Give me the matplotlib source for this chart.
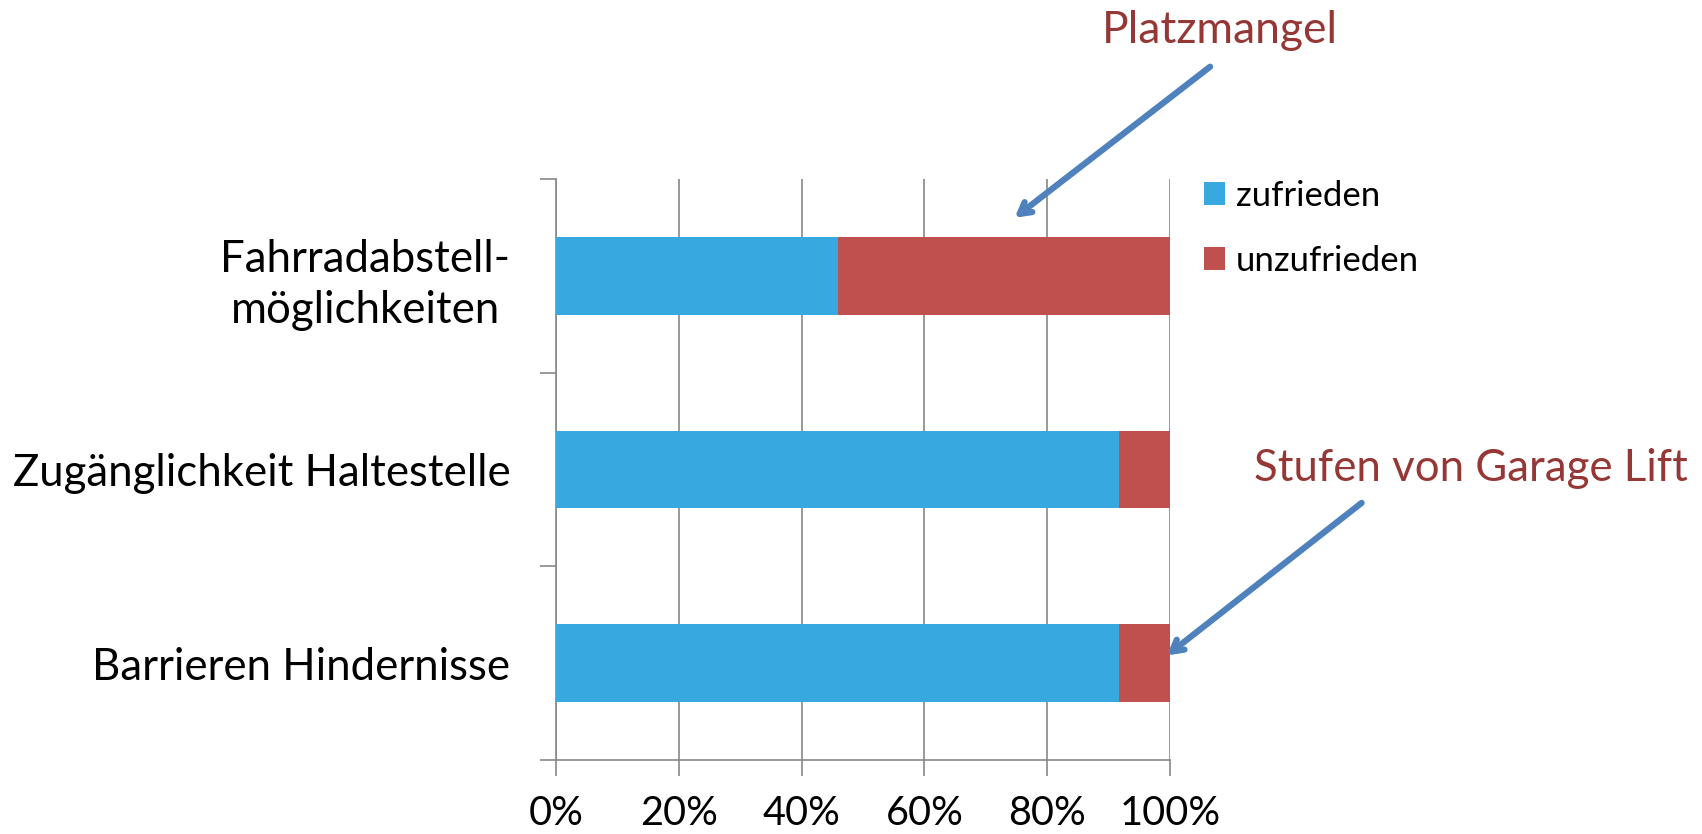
import matplotlib
matplotlib.use('Agg')
import matplotlib.pyplot as plt
import numpy as np

plt.rcParams['font.family'] = ['Lato', 'DejaVu Sans']

# data
categories = ['Fahrradabstell-\nmöglichkeiten', 'Zugänglichkeit Haltestelle', 'Barrieren Hindernisse']
zufrieden = [46.0, 91.7, 91.7]
unzufrieden = [54.0, 8.3, 8.3]
series_names = ['zufrieden', 'unzufrieden']
x_ticks = [0, 20, 40, 60, 80, 100]

BLUE = '#37A9E0'
RED = '#C0504D'
DARKRED = '#953735'
ARROW = '#4F81BD'
GRID = '#878787'

fig = plt.figure(figsize=(17.02, 8.34), dpi=100)
ax = fig.add_axes([0.3267, 0.0887, 0.3607, 0.6966])

y = np.arange(len(categories))
ax.barh(y, zufrieden, height=0.4, color=BLUE, label=series_names[0], zorder=3)
ax.barh(y, unzufrieden, left=zufrieden, height=0.4, color=RED, label=series_names[1], zorder=3)

ax.set_xlim(0, 100)
ax.set_ylim(len(categories) - 0.5, -0.5)

# x axis
ax.set_xticks(x_ticks)
ax.set_xticklabels(['%d%%' % v for v in x_ticks], fontsize=28.5)
ax.tick_params(axis='x', direction='out', length=11.5, width=1.2, color=GRID, pad=14)
ax.grid(axis='x', color=GRID, linewidth=1.2, zorder=0)

# y axis: ticks on category boundaries, labels at centres
ax.set_yticks(np.arange(len(categories) + 1) - 0.5)
ax.set_yticklabels([])
ax.set_yticks(y, minor=True)
ax.set_yticklabels(categories, minor=True, fontsize=31.5)
for lab in ax.get_yticklabels(minor=True):
    lab.set_multialignment('center')
    lab.set_linespacing(1.3)
ax.tick_params(axis='y', which='major', direction='out', length=11.5, width=1.2, color=GRID)
ax.tick_params(axis='y', which='minor', length=0, pad=33)

for side in ['top', 'right']:
    ax.spines[side].set_visible(False)
for side in ['left', 'bottom']:
    ax.spines[side].set_color(GRID)
    ax.spines[side].set_linewidth(1.2)

leg = ax.legend(loc='upper left', bbox_to_anchor=(0.689, 0.822), bbox_transform=fig.transFigure,
                frameon=False, fontsize=25, handlelength=0.62, handleheight=0.62,
                handletextpad=0.3, labelspacing=0.95)

# annotations
fig.text(0.717, 0.964, 'Platzmangel', color=DARKRED, fontsize=32, ha='center', va='center')
ax.annotate('', xy=(74.7, -0.30), xycoords='data', xytext=(0.711, 0.920), textcoords='figure fraction',
            arrowprops=dict(arrowstyle='->,head_length=0.8,head_width=0.45', color=ARROW, lw=4.5,
                            shrinkA=0, shrinkB=0))
fig.text(0.864, 0.438, 'Stufen von Garage Lift', color=DARKRED, fontsize=31.5, ha='center', va='center')
ax.annotate('', xy=(99.5, 1.96), xycoords='data', xytext=(0.800, 0.397), textcoords='figure fraction',
            arrowprops=dict(arrowstyle='->,head_length=0.8,head_width=0.45', color=ARROW, lw=4.5,
                            shrinkA=0, shrinkB=0), annotation_clip=False)

fig.savefig('out.png', dpi=100, facecolor='white')
